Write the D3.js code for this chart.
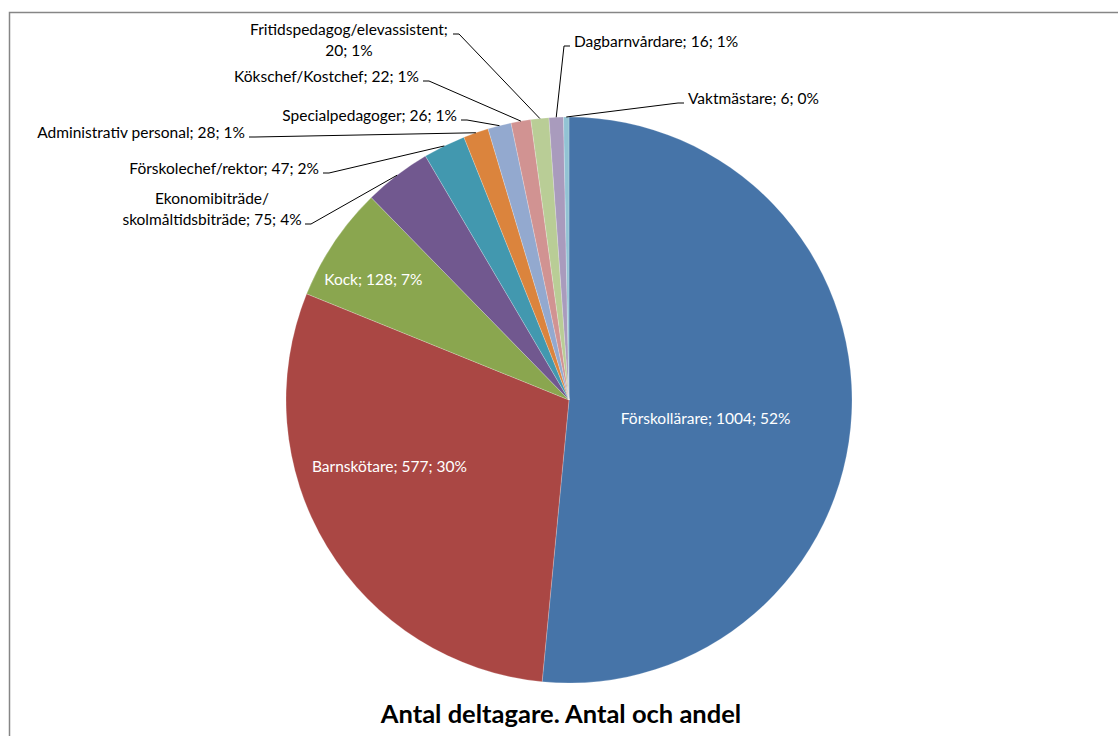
<!DOCTYPE html>
<html>
<head>
<meta charset="utf-8">
<script src="https://cdn.jsdelivr.net/npm/d3@7"></script>
<style>
  html, body { margin: 0; padding: 0; background: #fff; }
  svg { display: block; }
  text { font-family: Lato, "Noto Sans", sans-serif; }
</style>
</head>
<body>
<svg id="chart" width="1118" height="736"></svg>
<script>
// Participants by occupational group
const categories = [
  "Förskollärare", "Barnskötare", "Kock", "Ekonomibiträde/\nskolmåltidsbiträde",
  "Förskolechef/rektor", "Administrativ personal", "Specialpedagoger",
  "Kökschef/Kostchef", "Fritidspedagog/elevassistent;\n", "Dagbarnvårdare", "Vaktmästare"
];
const values = [1004, 577, 128, 75, 47, 28, 26, 22, 20, 16, 6];
const colors = [
  "#4674A8", "#AA4744", "#8AA64F", "#71588F", "#4298AF", "#DB843D",
  "#93A9CF", "#D19392", "#B9CD96", "#A99BBD", "#92C3D4"
];
const title = "Antal deltagare. Antal och andel";

// Label placement: inside labels as polar [angleDeg, radius], outside labels as anchor points
const labelLayout = [
  { inside: true, a: 98.3, d: 138 },
  { inside: true, a: 249.3, d: 192 },
  { inside: true, a: 301.3, d: 229 },
  { x: 212, y: 200, anchor: "middle", lead: [305, 224] },
  { x: 319, y: 170, anchor: "end", lead: [323, 173] },
  { x: 245, y: 134, anchor: "end", lead: [249, 137] },
  { x: 457, y: 117, anchor: "end", lead: [461, 120] },
  { x: 419, y: 78, anchor: "end", lead: [423, 81] },
  { x: 349, y: 31, anchor: "middle", lead: [453, 34] },
  { x: 574, y: 43, anchor: "start", lead: [570, 46] },
  { x: 688, y: 100, anchor: "start", lead: [684, 103] }
];

const svg = d3.select("#chart");
const cx = 569, cy = 400, r = 283;
const fs = 15.5;

// chart frame
svg.append("rect")
  .attr("x", 9.5).attr("y", 12.5)
  .attr("width", 1200).attr("height", 800)
  .attr("fill", "#fff")
  .attr("stroke", "#868686").attr("stroke-width", 1.5);

const total = d3.sum(values);
const data = categories.map((c, i) => ({ name: c, value: values[i], color: colors[i], i }));

const pie = d3.pie().value(d => d.value).sort(null)
  .startAngle(0).endAngle(2 * Math.PI);
const arcs = pie(data);
const arc = d3.arc().innerRadius(0).outerRadius(r);

const g = svg.append("g").attr("transform", `translate(${cx},${cy})`);
g.selectAll("path.slice")
  .data(arcs)
  .join("path")
  .attr("class", "slice")
  .attr("d", arc)
  .attr("fill", d => d.data.color)
  .attr("stroke", "#ffffff")
  .attr("stroke-opacity", 0.35)
  .attr("stroke-width", 0.6);

const pct = v => Math.round(v / total * 100) + "%";

arcs.forEach((a, i) => {
  const d = a.data;
  const L = labelLayout[i];
  const parts = d.name.split("\n");
  const valueText = `${d.value}; ${pct(d.value)}`;
  if (L.inside) {
    const ang = L.a * Math.PI / 180;
    const x = cx + L.d * Math.sin(ang), y = cy - L.d * Math.cos(ang);
    svg.append("text")
      .attr("x", x).attr("y", y)
      .attr("text-anchor", "middle").attr("dominant-baseline", "middle")
      .attr("font-size", fs).attr("fill", "#ffffff")
      .text(`${parts[0]}; ${valueText}`);
    return;
  }
  // leader line: short horizontal tick, then to the slice edge at its mid angle
  const mid = (a.startAngle + a.endAngle) / 2;
  const ex = cx + r * Math.sin(mid), ey = cy - r * Math.cos(mid);
  const dir = ex > L.lead[0] ? 1 : -1;
  svg.append("path")
    .attr("d", `M${L.lead[0]},${L.lead[1]}H${L.lead[0] + dir * 6}L${ex},${ey}`)
    .attr("fill", "none").attr("stroke", "#000").attr("stroke-width", 1);

  let lines;
  if (parts.length > 1) {
    lines = parts[1] === "" ? [parts[0], valueText] : [parts[0], `${parts[1]}; ${valueText}`];
  } else {
    lines = [`${parts[0]}; ${valueText}`];
  }
  const t = svg.append("text")
    .attr("text-anchor", L.anchor)
    .attr("font-size", fs).attr("fill", "#000");
  lines.forEach((ln, k) => {
    t.append("tspan")
      .attr("x", L.x).attr("y", L.y + k * 21)
      .attr("dominant-baseline", "middle")
      .text(ln);
  });
});

svg.append("text")
  .attr("x", 561).attr("y", 716)
  .attr("text-anchor", "middle").attr("dominant-baseline", "middle")
  .attr("font-size", 25.5).attr("font-weight", "bold").attr("fill", "#000")
  .text(title);
</script>
</body>
</html>
